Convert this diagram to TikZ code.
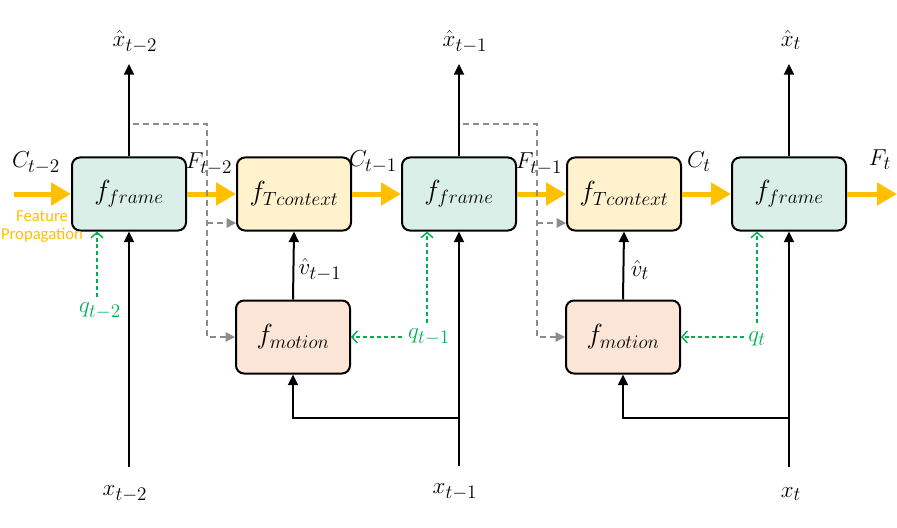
\documentclass[tikz,border=0pt]{standalone}
\usepackage{amsmath}
\usepackage{fontspec}
\newfontfamily\carlito{Carlito}
\usetikzlibrary{arrows.meta}
\DeclareMathSizes{17}{17}{14}{10}
\DeclareMathSizes{20}{20}{15.5}{11}
\definecolor{frameC}{HTML}{DAEFE8}
\definecolor{ctxC}{HTML}{FFF2CC}
\definecolor{motC}{HTML}{FBE5D6}
\definecolor{featY}{HTML}{FFC000}
\definecolor{qG}{HTML}{00B050}
\definecolor{grayD}{HTML}{8C8C8C}
\begin{document}
\begin{tikzpicture}[x=0.75pt,y=-0.75pt,
  boxbase/.style={draw=black, line width=1.5pt, rounded corners=6pt,
    minimum width=85.5pt, minimum height=54.75pt, inner sep=0pt,
    font=\fontsize{20}{24}\selectfont},
  framebox/.style={boxbase, fill=frameC},
  ctxbox/.style={boxbase, fill=ctxC},
  motbox/.style={boxbase, fill=motC},
  lab/.style={font=\fontsize{17}{20}\selectfont, inner sep=0pt},
  qlab/.style={lab, text=qG},
  yarrow/.style={draw=featY, line width=3.75pt, -{Triangle[length=15pt,width=16.5pt]}},
  barrow/.style={draw=black, line width=1.5pt, -{Triangle[length=8pt,width=7.5pt]}},
  qarrow/.style={draw=qG, line width=1.1pt, dash pattern=on 3pt off 2.2pt, -{Straight Barb[length=4pt,width=9pt,line width=1.1pt]}},
  garrow/.style={draw=grayD, line width=1.1pt, dash pattern=on 4.5pt off 3pt, -{Triangle[length=7pt,width=7pt]}}
]
\useasboundingbox (0,0) rectangle (897,528);

% boxes
\node[framebox] (fr1) at (129,194) {$f_{frame}$};
\node[ctxbox]   (ct1) at (294,194) {$f_{Tcontext}$};
\node[framebox] (fr2) at (459,194) {$f_{frame}$};
\node[ctxbox]   (ct2) at (624,194) {$f_{Tcontext}$};
\node[framebox] (fr3) at (789,194) {$f_{frame}$};
\node[motbox]   (mo1) at (293,337) {$f_{motion}$};
\node[motbox]   (mo2) at (623,337) {$f_{motion}$};

% feature propagation (yellow)
\coordinate (cin) at (14,194);
\coordinate (cout) at (897,194);
\draw[yarrow] (cin) -- (fr1.west);
\draw[yarrow] (fr1.east) -- (ct1.west);
\draw[yarrow] (ct1.east) -- (fr2.west);
\draw[yarrow] (fr2.east) -- (ct2.west);
\draw[yarrow] (ct2.east) -- (fr3.west);
\draw[yarrow] (fr3.east) -- (cout);

\node[lab] (lc2) at (36,163) {$C_{t-2}$};
\node[lab] (lf2) at (209,164) {$F_{t-2}$};
\node[lab] (lc1) at (373,162) {$C_{t-1}$};
\node[lab] (lf1) at (539,164) {$F_{t-1}$};
\node[lab] (lc0) at (699,162) {$C_{t}$};
\node[lab] (lf0) at (880,160) {$F_{t}$};
\node[font=\carlito\fontsize{12.5}{13.5}\selectfont, text=featY, align=center, inner sep=0pt] (fp) at (42,227) {Feature\\Propagation};

% outputs
\node[lab] (xh2) at (135,42) {$\hat{x}_{t-2}$};
\node[lab] (xh1) at (465,42) {$\hat{x}_{t-1}$};
\node[lab] (xh0) at (791,40) {$\hat{x}_{t}$};
\coordinate (o2) at (129,64);
\coordinate (o1) at (459,64);
\coordinate (o0) at (789,64);
\draw[barrow] (fr1.north) -- (o2);
\draw[barrow] (fr2.north) -- (o1);
\draw[barrow] (fr3.north) -- (o0);

% inputs
\node[lab] (x2) at (125,494) {$x_{t-2}$};
\node[lab] (x1) at (455,492) {$x_{t-1}$};
\node[lab] (x0) at (791,494) {$x_{t}$};
\coordinate (i2) at (129,467);
\coordinate (i1) at (459,466);
\coordinate (i0) at (789,467);
\coordinate (j1) at (459,418);
\coordinate (j0) at (789,418);
\draw[barrow] (i2) -- (fr1.south);
\draw[barrow] (i1) -- (fr2.south);
\draw[barrow] (i0) -- (fr3.south);
\draw[barrow] (j1) -| (mo1.south);
\draw[barrow] (j0) -| (mo2.south);

% motion to context
\draw[barrow] (mo1.north) -- (ct1.south);
\draw[barrow] (mo2.north) -- (ct2.south);
\node[lab] (v1) at (320,270) {$\hat{v}_{t-1}$};
\node[lab] (v0) at (640,270) {$\hat{v}_{t}$};

% quantization (green)
\node[qlab] (q2) at (100,311) {$q_{t-2}$};
\node[qlab] (q1) at (429,337) {$q_{t-1}$};
\node[qlab] (q0) at (757,339) {$q_{t}$};
\coordinate (qa2) at (97,297);
\coordinate (qa1) at (427,323);
\coordinate (qa0) at (757,323);
\coordinate (qh1) at (402,337);
\coordinate (qh0) at (744,337);
\draw[qarrow] (qa2) -- (qa2 |- fr1.south);
\draw[qarrow] (qa1) -- (qa1 |- fr2.south);
\draw[qarrow] (qa0) -- (qa0 |- fr3.south);
\draw[qarrow] (qh1) -- (mo1.east);
\draw[qarrow] (qh0) -- (mo2.east);

% previous reconstruction (gray)
\coordinate (ga1) at (133,124);
\coordinate (gb1) at (207,124);
\coordinate (gc1) at (207,223);
\coordinate (ga0) at (463,124);
\coordinate (gb0) at (537,124);
\coordinate (gc0) at (537,223);
\draw[garrow] (ga1) -- (gb1) |- (mo1.west);
\draw[garrow] (gc1) -- (gc1 -| ct1.west);
\draw[garrow] (ga0) -- (gb0) |- (mo2.west);
\draw[garrow] (gc0) -- (gc0 -| ct2.west);
\end{tikzpicture}
\end{document}
